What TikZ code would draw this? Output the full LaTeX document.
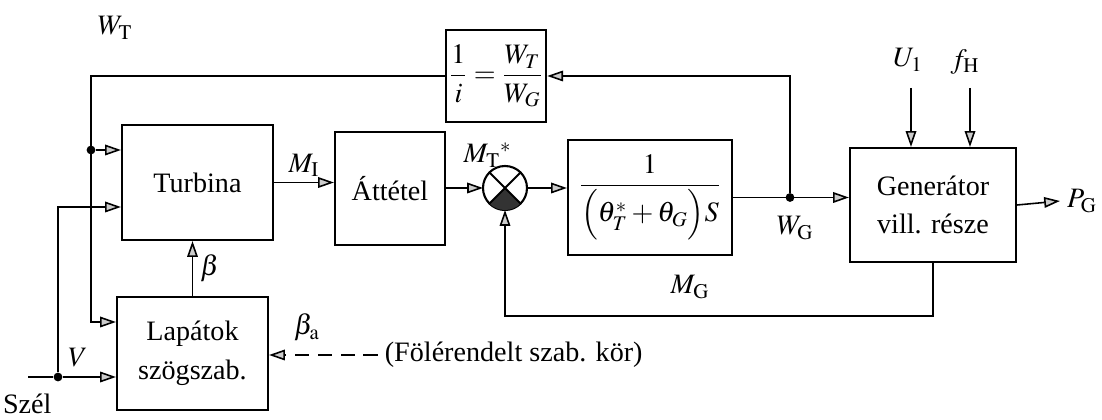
\documentclass[tikz,border=0pt]{standalone}
\usepackage{amsmath}
\usepackage{mathptmx}
\usepackage{fontspec}
\setmainfont{Liberation Serif}
\usetikzlibrary{arrows.meta}
\tikzset{
	blockbox/.style={shape=rectangle, draw, line width=1.2pt, align=center, font=\fontsize{16}{22}\selectfont},
	lbl/.style={font=\fontsize{16}{19}\selectfont, inner sep=1pt},
	wire/.style={line width=0.9pt, -{Triangle[length=9pt, width=6pt, fill=gray!40]}},
	junc/.style={circle, fill, inner sep=0pt, minimum size=5pt},
}
\begin{document}
\begin{tikzpicture}
	\useasboundingbox (0,0) rectangle (22.04,8.4);
	% Blocks:
	\node[blockbox, minimum width=3.02cm, minimum height=2.3cm] (turb) at (3.95, 4.75) {Turbina};
	\node[blockbox, minimum width=3.02cm, minimum height=2.26cm] (lap) at (3.85, 1.33) {Lapátok\\szögszab.};
	\node[blockbox, minimum width=2.2cm, minimum height=2.26cm] (att) at (7.8, 4.63) {Áttétel};
	\node[blockbox, minimum width=1.96cm, minimum height=1.84cm, inner sep=2pt] (ratio) at (9.92, 6.88) {$\dfrac{1}{i}=\dfrac{W_T}{W_G}$};
	\node[circle, draw, line width=1.2pt, outer sep=0pt, minimum size=0.88cm] (sum) at (10.1, 4.64) {};
	\node[blockbox, minimum width=3.28cm, minimum height=2.3cm] (dyn) at (13.0, 4.45) {$\dfrac{1}{\Bigl(\theta_T^*+\theta_G\Bigr)S}$};
	\node[blockbox, minimum width=3.32cm, minimum height=2.28cm] (gen) at (18.66, 4.3) {Generátor\\vill. része};
	% Summing point:
	\fill[black!80] (sum.center) -- (sum.-135) arc[start angle=-135, end angle=-45, radius=0.44cm] -- cycle;
	\draw[line width=1.2pt] (sum.45) -- (sum.-135) (sum.135) -- (sum.-45);
	% Junctions and free ends:
	\node[junc] (jWT) at (1.82, 5.4) {};
	\node[junc] (jV) at (1.16, 0.86) {};
	\node[junc] (jWG) at (15.8, 4.45) {};
	\coordinate (wind) at (0.56, 0.86);
	\coordinate (u1in) at (18.22, 6.64);
	\coordinate (fhin) at (19.4, 6.64);
	% Labels:
	\node[lbl] (WT) at (2.3, 7.84) {$W_\mathrm{T}$};
	\node[lbl] (MTs) at (9.75, 5.3) {$M_\mathrm{T}{}^{*}$};
	\node[lbl] (WG) at (15.9, 3.84) {$W_\mathrm{G}$};
	\node[lbl] (MG) at (13.8, 2.66) {$M_\mathrm{G}$};
	\node[lbl] (V) at (1.56, 1.24) {$V$};
	\node[lbl, anchor=west] (szel) at (0.02, 0.32) {Szél};
	\node[lbl] (ba) at (6.14, 1.85) {$\beta_\mathrm{a}$};
	\node[lbl] (U1) at (18.16, 7.2) {$U_1$};
	\node[lbl] (fH) at (19.3, 7.16) {$f_\mathrm{H}$};
	\node[lbl, anchor=west] (PG) at (21.3, 4.38) {$P_\mathrm{G}$};
	\node[lbl, anchor=west, inner sep=4pt] (sup) at (7.55, 1.3) {(Fölérendelt szab. kör)};
	% Wires:
	\draw[wire] (turb.east) -- (turb.east -| att.west) node[lbl, midway, above=2pt] {$M_\mathrm{I}$};
	\draw[wire] (sum.west -| att.east) -- (sum.west);
	\draw[wire] (sum.east) -- (sum.east -| dyn.west);
	\draw[wire] (dyn.east) -- (dyn.east -| gen.west);
	\draw[wire] (jWG) |- (ratio.east);
	\draw[wire] (ratio.west) -| (jWT.center) |- ([yshift=0.63cm]lap.west);
	\draw[wire] (jWT) -- ([yshift=0.65cm]turb.west);
	\draw[wire] (wind) -- (jV) -- ([yshift=-0.47cm]lap.west);
	\draw[wire] (jV) |- ([yshift=-0.49cm]turb.west);
	\draw[wire] (lap.north) -- (lap.north |- turb.south) node[lbl, midway, right=3pt] {$\beta$};
	\draw[wire, dash pattern=on 8pt off 5pt] (sup.west) -- (sup.west -| lap.east);
	\draw[wire] (u1in) -- (u1in |- gen.north);
	\draw[wire] (fhin) -- (fhin |- gen.north);
	\draw[wire] (gen.east) -- ([xshift=-0.1cm]PG.west);
	\draw[wire] (gen.south) -- ++(0,-1.06) -| (sum.south);
\end{tikzpicture}
\end{document}
